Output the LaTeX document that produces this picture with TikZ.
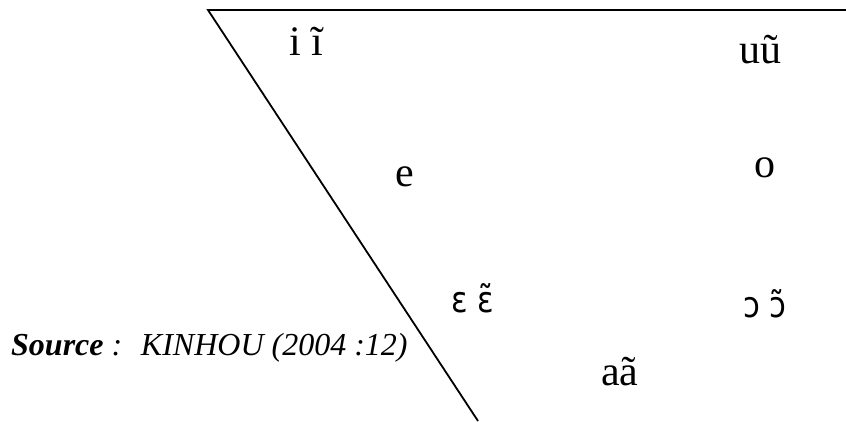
\documentclass[tikz,border=0pt]{standalone}
\usepackage{fontspec}
\setmainfont{Liberation Serif}
\newfontfamily\ipasans[FakeStretch=0.85]{DejaVu Sans}
\begin{document}
\begin{tikzpicture}[x=1pt,y=-1pt,
  vowel/.style={inner sep=0pt,anchor=base west,font=\fontsize{42}{48}\selectfont},
  vowelsans/.style={inner sep=0pt,anchor=base west,font=\ipasans\fontsize{36}{42}\selectfont},
  chart/.style={line width=1.8pt,line cap=butt}]
\useasboundingbox (0,0) rectangle (846,421);
\coordinate (tl) at (208,10);
\coordinate (tr) at (846,10);
\coordinate (bt) at (478,421);
\draw[chart] (tr) -- (tl) -- (bt);
\node[vowel] (i) at (289,55) {i ĩ};
\node[vowel] (u) at (739,63) {uũ};
\node[vowel] (e) at (395,186) {e};
\node[vowel] (o) at (754,177) {o};
\node[vowelsans] (eps) at (451,312) {ɛ ɛ̃};
\node[vowelsans] (oo) at (743,317) {ɔ ɔ̃};
\node[vowel] (a) at (601,385) {aã};
\node[inner sep=0pt,anchor=base west,font=\fontsize{32}{37}\selectfont] (src) at (11,355) {\textbf{\textit{Source}}\textit{ :~ KINHOU (2004 :12)}};
\end{tikzpicture}
\end{document}
